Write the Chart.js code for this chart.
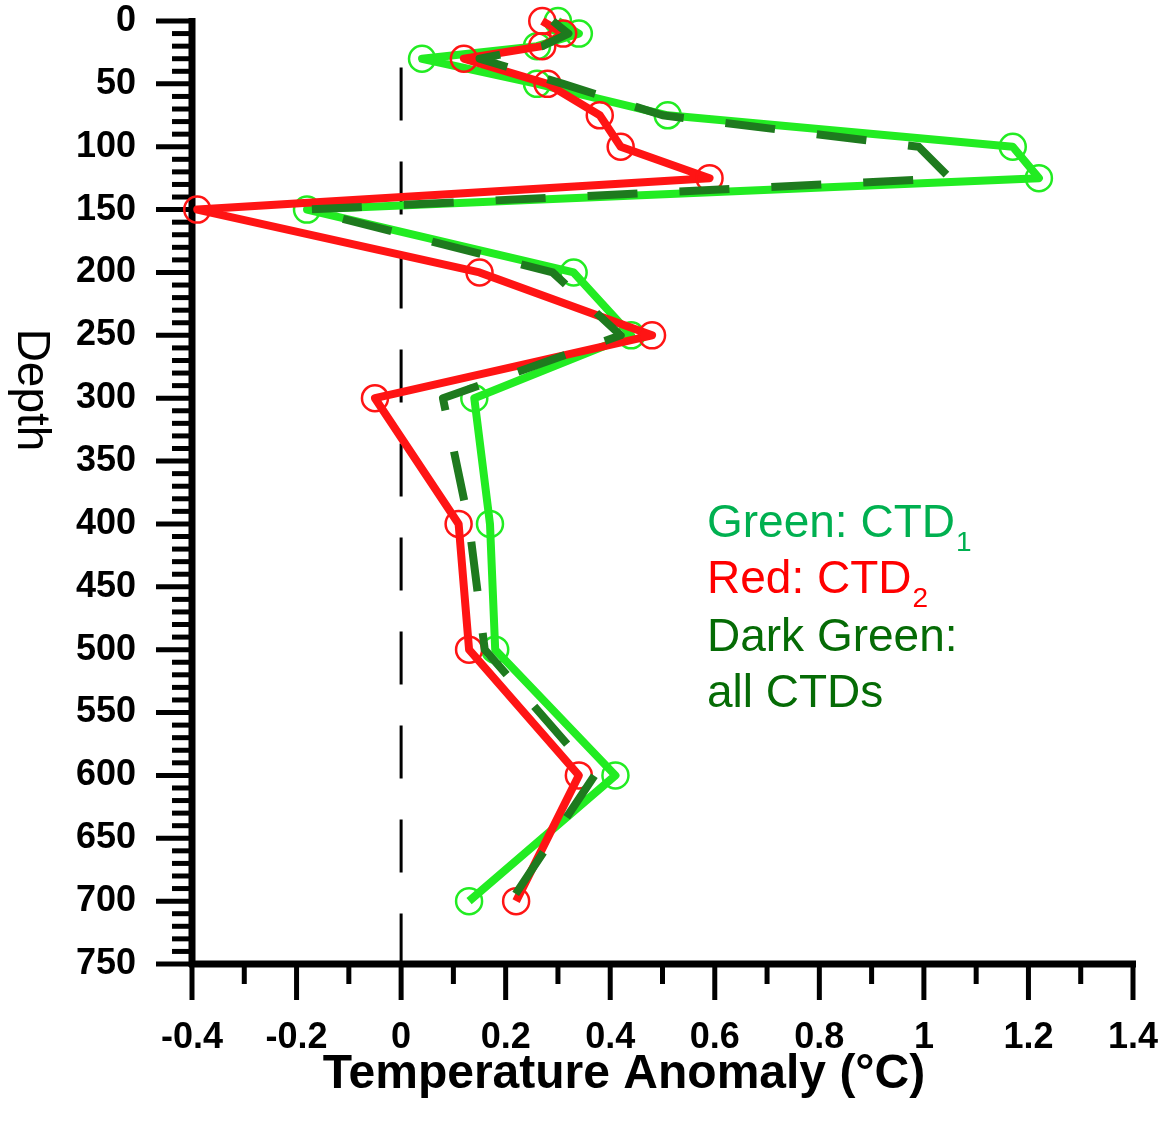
<!DOCTYPE html>
<html>
<head>
<meta charset="utf-8">
<title>Temperature Anomaly by Depth</title>
<script src="https://cdn.jsdelivr.net/npm/chart.js@4.4.0/dist/chart.umd.min.js"></script>
<style>
  html, body { margin: 0; padding: 0; background: #fff; }
  #wrap { position: relative; width: 1164px; height: 1125px; }
  canvas { display: block; }
</style>
</head>
<body>
<div id="wrap"><canvas id="chart" width="1164" height="1125"></canvas></div>
<script>
// Sampled depths (m)
const depths = [0, 10, 20, 30, 50, 75, 100, 125, 150, 200, 250, 300, 400, 500, 600, 700];

// Temperature anomaly (°C) per depth
const ctd1    = [0.30, 0.34, 0.26, 0.04, 0.26, 0.51, 1.17, 1.22, -0.18, 0.33, 0.44, 0.14, 0.17, 0.18, 0.41, 0.13];
const ctd2    = [0.27, 0.31, 0.27, 0.12, 0.28, 0.38, 0.42, 0.59, -0.39, 0.15, 0.48, -0.05, 0.11, 0.13, 0.34, 0.22];
const allCtds = [0.29, 0.32, 0.27, 0.15, 0.31, 0.50, 0.99, 1.05, -0.18, 0.29, 0.42, 0.08, 0.13, 0.16, 0.37, 0.21];

// Zero-anomaly reference line extent (depth)
const zeroLineDepths = [37, 750];

// Axis ticks
const xTickValues = [-0.4, -0.2, 0, 0.2, 0.4, 0.6, 0.8, 1, 1.2, 1.4];
const xTickLabels = ['-0.4', '-0.2', '0', '0.2', '0.4', '0.6', '0.8', '1', '1.2', '1.4'];
const yTickValues = [0, 50, 100, 150, 200, 250, 300, 350, 400, 450, 500, 550, 600, 650, 700, 750];
const yTickLabels = ['0', '50', '100', '150', '200', '250', '300', '350', '400', '450', '500', '550', '600', '650', '700', '750'];

const GREEN = '#22ec22';
const RED = '#ff1414';
const DARK_GREEN = '#1e7a1e';
const FONT = '"Liberation Sans", Arial, Helvetica, sans-serif';

function toPoints(values) {
  return depths.map((d, i) => ({ x: values[i], y: d }));
}

function labelFor(values, labels, v) {
  let best = 0;
  values.forEach((t, i) => { if (Math.abs(t - v) < Math.abs(values[best] - v)) best = i; });
  return labels[best];
}

// Axis lines and major/minor tick marks, drawn under the data
const frame = {
  id: 'frame',
  beforeDatasetsDraw(chart) {
    const { ctx, chartArea: a, scales: { x, y } } = chart;
    ctx.save();
    ctx.strokeStyle = '#000';
    ctx.lineCap = 'butt';

    // depth ticks: every 10, long ones every 50
    ctx.lineWidth = 5;
    for (let d = 0; d <= 750; d += 10) {
      const py = y.getPixelForValue(d);
      const len = d % 50 === 0 ? 36 : 20;
      ctx.beginPath();
      ctx.moveTo(a.left - len, py);
      ctx.lineTo(a.left, py);
      ctx.stroke();
    }

    // temperature ticks: every 0.1, long ones every 0.2
    for (let k = -4; k <= 14; k++) {
      const px = x.getPixelForValue(k / 10);
      const len = k % 2 === 0 ? 36 : 20;
      ctx.beginPath();
      ctx.moveTo(px, a.bottom);
      ctx.lineTo(px, a.bottom + len);
      ctx.stroke();
    }

    // axis lines
    ctx.lineWidth = 7;
    ctx.beginPath();
    ctx.moveTo(a.left, a.top - 3);
    ctx.lineTo(a.left, a.bottom + 3);
    ctx.stroke();
    ctx.beginPath();
    ctx.moveTo(a.left - 3, a.bottom);
    ctx.lineTo(a.right + 3, a.bottom);
    ctx.stroke();
    ctx.restore();
  }
};

// Axis titles and the colour key
const captions = {
  id: 'captions',
  afterDraw(chart) {
    const { ctx } = chart;
    ctx.save();
    ctx.textBaseline = 'alphabetic';

    // x-axis title
    ctx.fillStyle = '#000';
    ctx.font = 'bold 48px ' + FONT;
    ctx.textAlign = 'center';
    ctx.fillText('Temperature Anomaly (°C)', 624, 1088);

    // y-axis title, reading downward
    ctx.save();
    ctx.translate(18, 390);
    ctx.rotate(Math.PI / 2);
    ctx.font = '46px ' + FONT;
    ctx.fillText('Depth', 0, 0);
    ctx.restore();

    // key
    ctx.textAlign = 'left';
    const keyFont = '46px ' + FONT;
    const subFont = '28px ' + FONT;
    const rows = [
      { text: 'Green: CTD', sub: '1', color: '#00b050', base: 537 },
      { text: 'Red: CTD', sub: '2', color: '#ff0000', base: 593 },
      { text: 'Dark Green:', sub: '', color: '#056b05', base: 651 },
      { text: 'all CTDs', sub: '', color: '#056b05', base: 707 }
    ];
    rows.forEach(r => {
      ctx.fillStyle = r.color;
      ctx.font = keyFont;
      ctx.fillText(r.text, 707, r.base);
      if (r.sub) {
        const w = ctx.measureText(r.text).width;
        ctx.font = subFont;
        ctx.fillText(r.sub, 707 + w + 1, r.base + 14);
      }
    });
    ctx.restore();
  }
};

new Chart(document.getElementById('chart'), {
  type: 'scatter',
  data: {
    datasets: [
      {
        label: 'all CTDs',
        data: toPoints(allCtds),
        showLine: true,
        borderColor: DARK_GREEN,
        borderWidth: 8,
        borderDash: [50, 42],
        borderJoinStyle: 'round',
        pointRadius: 0,
        clip: false,
        order: 0
      },
      {
        label: 'CTD2',
        data: toPoints(ctd2),
        showLine: true,
        borderColor: RED,
        borderWidth: 8,
        borderJoinStyle: 'round',
        pointRadius: 13,
        pointBorderWidth: 2.5,
        pointBorderColor: RED,
        pointBackgroundColor: 'rgba(0,0,0,0)',
        clip: false,
        order: 1
      },
      {
        label: 'CTD1',
        data: toPoints(ctd1),
        showLine: true,
        borderColor: GREEN,
        borderWidth: 8,
        borderJoinStyle: 'round',
        pointRadius: 13,
        pointBorderWidth: 2.5,
        pointBorderColor: GREEN,
        pointBackgroundColor: 'rgba(0,0,0,0)',
        clip: false,
        order: 2
      },
      {
        label: 'zero',
        data: zeroLineDepths.map(d => ({ x: 0, y: d })),
        showLine: true,
        borderColor: '#000',
        borderWidth: 3,
        borderDash: [53, 41],
        pointRadius: 0,
        clip: false,
        order: 3
      }
    ]
  },
  options: {
    responsive: false,
    animation: false,
    devicePixelRatio: 1,
    events: [],
    layout: { padding: { left: 0, right: 31, top: 21, bottom: 0 } },
    plugins: { legend: { display: false }, tooltip: { enabled: false } },
    scales: {
      x: {
        type: 'linear',
        min: -0.4,
        max: 1.4,
        grid: { display: false },
        border: { display: false },
        ticks: {
          stepSize: 0.2,
          padding: 44,
          color: '#000',
          font: { family: FONT, size: 36, weight: 'bold' },
          maxRotation: 0,
          autoSkip: false,
          callback: v => labelFor(xTickValues, xTickLabels, v)
        },
        afterFit(s) { s.height = 161; s.paddingLeft = 0; s.paddingRight = 0; }
      },
      y: {
        type: 'linear',
        reverse: true,
        min: 0,
        max: 750,
        grid: { display: false },
        border: { display: false },
        ticks: {
          stepSize: 50,
          padding: 48,
          color: '#000',
          font: { family: FONT, size: 36, weight: 'bold' },
          autoSkip: false,
          callback: v => labelFor(yTickValues, yTickLabels, v)
        },
        afterFit(s) { s.width = 192; s.paddingTop = 0; s.paddingBottom = 0; }
      }
    }
  },
  plugins: [frame, captions]
});
</script>
</body>
</html>
